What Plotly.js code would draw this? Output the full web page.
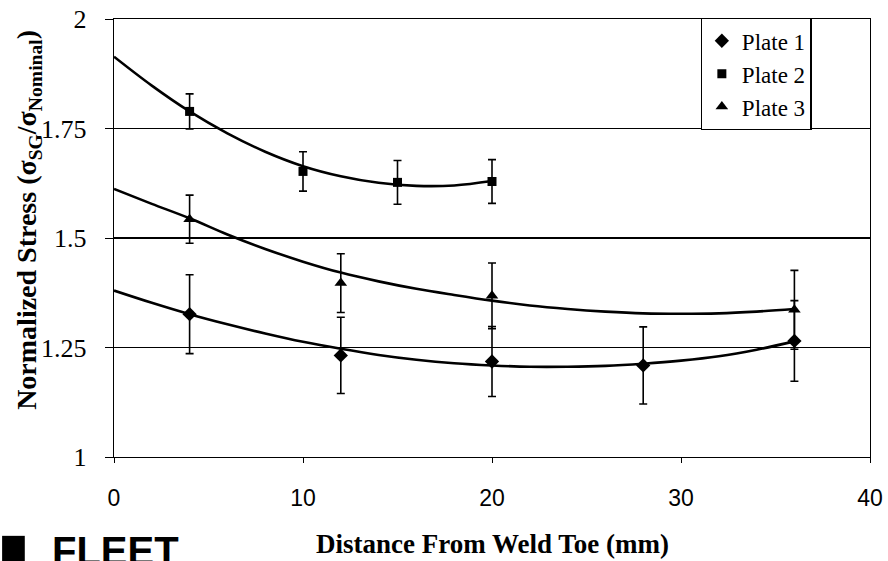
<!DOCTYPE html>
<html>
<head>
<meta charset="utf-8">
<script src="https://cdn.plot.ly/plotly-3.0.1.min.js"></script>
<style>html,body{margin:0;padding:0;background:#fff;}#chart{width:888px;height:561px;}</style>
</head>
<body>
<div id="chart"></div>
<script>
// Measured data points
const plate1X = [4, 12, 20, 28, 36];
const plate1Y = [1.326, 1.232, 1.218, 1.209, 1.265];
const plate1Err = [0.09, 0.087, 0.08, 0.088, 0.092];

const plate2X = [4, 10, 15, 20];
const plate2Y = [1.789, 1.652, 1.627, 1.629];
const plate2Err = [0.04, 0.045, 0.05, 0.05];

const plate3X = [4, 12, 20, 36];
const plate3Y = [1.543, 1.397, 1.368, 1.336];
const plate3Err = [0.055, 0.067, 0.075, 0.09];

// Trend curves
const trend1X = [0, 2, 4, 6, 8, 10, 12, 14, 16, 18, 20, 22, 24, 26, 28, 30, 32, 34, 36];
const trend1Y = [1.380, 1.352, 1.326, 1.303, 1.282, 1.263, 1.247, 1.233, 1.222, 1.214, 1.209, 1.206, 1.206, 1.208, 1.213, 1.220, 1.230, 1.245, 1.264];
const trend2X = [0, 2, 4, 6, 8, 10, 12, 14, 16, 18, 20];
const trend2Y = [1.914, 1.848, 1.789, 1.739, 1.697, 1.664, 1.641, 1.626, 1.619, 1.620, 1.630];
const trend3X = [0, 2, 4, 6, 8, 10, 12, 14, 16, 18, 20, 22, 24, 26, 28, 30, 32, 34, 36];
const trend3Y = [1.612, 1.578, 1.545, 1.508, 1.475, 1.446, 1.421, 1.401, 1.384, 1.370, 1.357, 1.346, 1.338, 1.332, 1.328, 1.327, 1.328, 1.332, 1.338];

const xTicks = [0, 10, 20, 30, 40];
const yTicks = [1, 1.25, 1.5, 1.75, 2];
const yTickText = ['1', '1.25', '1.5', '1.75', '2'];
const seriesNames = ['Plate 1', 'Plate 2', 'Plate 3'];
const xTitle = '<b>Distance From Weld Toe (mm)</b>';
const yTitle = '<b>Normalized Stress (σ<sub>SG</sub>/σ<sub>Nominal</sub>)</b>';

const serif = '"Liberation Serif", "Times New Roman", Times, serif';
const sans = '"Liberation Sans", Arial, Helvetica, sans-serif';

function lineTrace(x, y) {
  return {x: x, y: y, type: 'scatter', mode: 'lines', showlegend: false, hoverinfo: 'skip',
          line: {color: '#000', width: 2.6, shape: 'spline', smoothing: 1}};
}
function markerTrace(x, y, err, name, symbol, size) {
  return {x: x, y: y, name: name, type: 'scatter', mode: 'markers',
          marker: {symbol: symbol, size: size, color: '#000'},
          error_y: {type: 'data', array: err, visible: true, color: '#000', thickness: 1.6, width: 4}};
}

const data = [
  lineTrace(trend1X, trend1Y),
  lineTrace(trend2X, trend2Y),
  lineTrace(trend3X, trend3Y),
  markerTrace(plate1X, plate1Y, plate1Err, seriesNames[0], 'diamond', 11),
  markerTrace(plate2X, plate2Y, plate2Err, seriesNames[1], 'square', 9),
  markerTrace(plate3X, plate3Y, plate3Err, seriesNames[2], 'triangle-up', 11)
];

const layout = {
  width: 888, height: 561,
  margin: {l: 114, r: 18, t: 19, b: 104},
  paper_bgcolor: '#fff', plot_bgcolor: '#fff',
  showlegend: true,
  legend: {x: 0.776, y: 1.002, xanchor: 'left', yanchor: 'top',
           bgcolor: '#fff', bordercolor: '#000', borderwidth: 1.2,
           font: {family: serif, size: 23, color: '#000'},
           tracegroupgap: 0, itemwidth: 30},
  xaxis: {range: [0, 40], tickvals: xTicks, ticktext: xTicks.map(String),
          showgrid: false, zeroline: false, showline: true, linecolor: '#000', linewidth: 1.2,
          mirror: true, ticks: 'outside', ticklen: 5, tickcolor: '#000',
          ticklabelstandoff: 15,
          tickfont: {family: sans, size: 23, color: '#000'}},
  yaxis: {range: [1, 2], tickvals: yTicks, ticktext: yTickText,
          showgrid: true, gridcolor: '#000', gridwidth: 1.2, zeroline: false,
          showline: true, linecolor: '#000', linewidth: 1.2, mirror: true,
          ticks: 'outside', ticklen: 8, tickcolor: '#000', ticklabelstandoff: 13,
          tickfont: {family: serif, size: 26, color: '#000'}},
  annotations: [
    {xref: 'paper', yref: 'paper', x: 0.5, y: -0.199, xanchor: 'center', yanchor: 'middle',
     text: xTitle, showarrow: false, font: {family: serif, size: 27, color: '#000'}},
    {xref: 'paper', yref: 'paper', x: -0.114, y: 0.541, xanchor: 'center', yanchor: 'middle',
     text: yTitle, textangle: -90, showarrow: false, font: {family: serif, size: 28, color: '#000'}},
    {xref: 'paper', yref: 'paper', x: -0.085, y: -0.16, xanchor: 'left', yanchor: 'top',
     text: '<b>FLEET</b>', showarrow: false,
     font: {family: sans, size: 40, color: '#000'}}
  ],
  shapes: [
    {type: 'rect', xref: 'paper', yref: 'paper', x0: -0.148, x1: -0.118, y0: -0.24, y1: -0.18,
     fillcolor: '#000', line: {width: 0}}
  ]
};

Plotly.newPlot('chart', data, layout, {displayModeBar: false, staticPlot: true});
</script>
</body>
</html>
